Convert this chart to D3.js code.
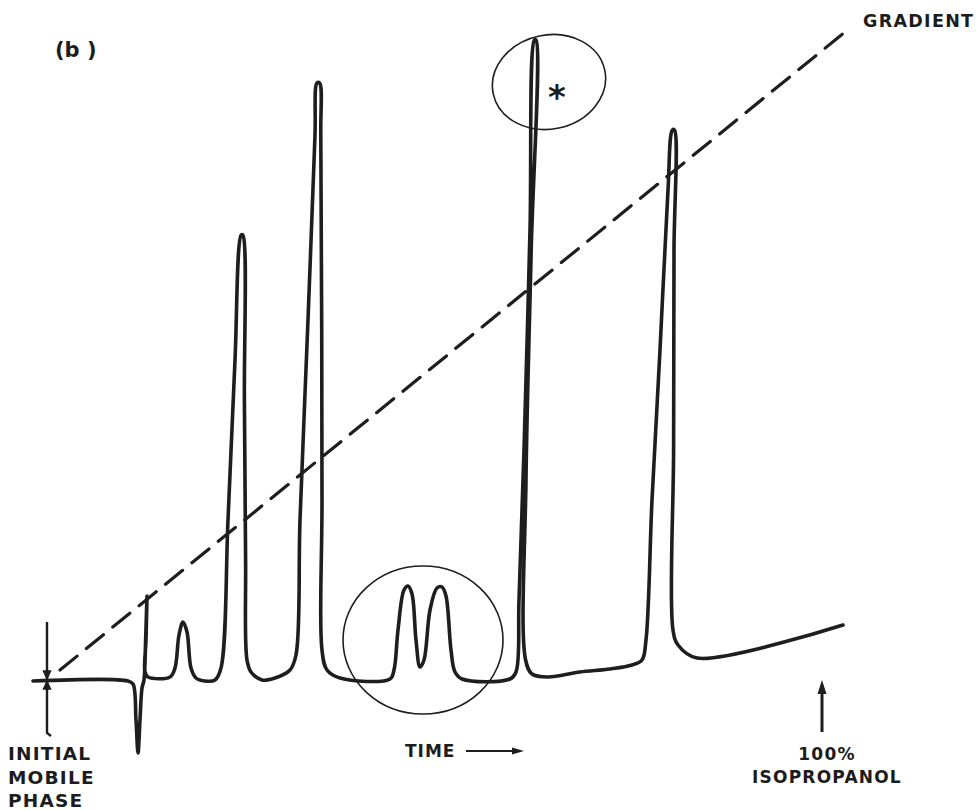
<!DOCTYPE html>
<html><head><meta charset="utf-8">
<script src="https://cdn.jsdelivr.net/npm/d3@7"></script>
<style>
html,body{margin:0;padding:0;background:#fff;}
svg text{font-family:"DejaVu Sans",Verdana,sans-serif;font-weight:bold;fill:#1c1c1c;}
</style>
</head><body>
<script>
// Chromatogram trace (time in min, detector signal in arbitrary units)
const traceTime = [-0.35,4.4,4.65,4.8,4.9,5.0,5.1,5.2,5.28,5.35,5.3,5.25,5.4,6.5,6.75,6.95,7.15,7.35,7.55,7.8,8.25,8.75,9.05,9.4,9.75,10.06,10.14,10.22,10.28,10.35,10.55,11.1,11.75,12.5,12.8,13.0,13.4,13.75,13.85,13.98,14.04,14.1,14.1,14.35,15.0,17.5,17.7,17.9,18.2,18.4,18.6,18.8,19.0,19.2,19.5,19.85,20.1,20.3,20.55,20.75,21.1,23.5,23.8,23.95,24.2,24.5,24.72,24.8,24.56,24.3,24.28,24.6,25.4,27.0,28.5,29.6,30.1,30.3,30.6,31.0,31.4,31.62,31.72,31.7,31.68,31.65,31.9,32.85,40.15];
const traceSignal = [-0.2,-0.2,-0.8,-8,-14.6,-8,-1.6,0,8,16.8,8,1.6,0.6,0.6,2.4,9,11.6,9.6,2.4,0.4,-0.2,0,2.4,32,64,89,89,56,24,4,1.6,0,0.4,2,5,32,72,109,119.4,119.4,109,36,6,2,0.4,0.2,2,10,18,18.8,17.2,8,2.6,4,14,18.4,18.6,16.8,6,1.6,0.2,0.2,1.6,16,46,90,128,128,86,40,4,1.2,0.6,1.6,2.2,3,4,8,36,66,98,110,110,86,46,10,7,4.4,11];
// Gradient programme (% isopropanol)
const gradientTime = [1.0, 40.25];
const gradientPct = [0, 100];
// Text labels
const panelLabel = "(b )";
const gradientLabel = "GRADIENT";
const initialLabel = ["INITIAL","MOBILE","PHASE"];
const timeLabel = "TIME";
const endLabel = ["100%","ISOPROPANOL"];
const injectTime = 0.35;      // initial mobile phase marker
const endTime = 39.1;         // 100% isopropanol marker
const circledM = {t:19.15, s:8, rt:4.0, rs:14.8};   // circled doublet
const circledStar = {t:25.45, s:119.6, rt:2.85, rs:9.4}; // circled starred peak

const W = 980, H = 810;
const svg = d3.select("body").append("svg").attr("width",W).attr("height",H);
svg.append("rect").attr("width",W).attr("height",H).attr("fill","#fff");

const x = d3.scaleLinear().domain([0,41]).range([40,860]);
const y = d3.scaleLinear().domain([0,128]).range([680,40]);
const yG = d3.scaleLinear().domain([0,100]).range([670,32]);
const ink = "#1e1e1e";

// gradient dashed line
svg.append("path")
  .datum(d3.zip(gradientTime, gradientPct))
  .attr("d", d3.line().x(d=>x(d[0])).y(d=>yG(d[1])))
  .attr("fill","none").attr("stroke",ink).attr("stroke-width",3.2)
  .attr("stroke-dasharray","22,12").attr("stroke-linecap","round");

// trace
const pts = d3.zip(traceTime, traceSignal);
svg.append("path")
  .datum(pts)
  .attr("d", d3.line().x(d=>x(d[0])).y(d=>y(d[1])).curve(d3.curveCatmullRom.alpha(0.5)))
  .attr("fill","none").attr("stroke",ink).attr("stroke-width",3.6)
  .attr("stroke-linejoin","round").attr("stroke-linecap","round");

// initial mobile phase marker
const xi = x(injectTime);
svg.append("path")
  .attr("d",`M${xi},${y(11.6)} L${xi},${y(-10.6)} L${xi+4},${y(-11.2)}`)
  .attr("fill","none").attr("stroke",ink).attr("stroke-width",2.4);
svg.append("path").attr("d",`M${xi-3.5},${y(1.8)} L${xi+3.5},${y(1.8)} L${xi},${y(0.2)} Z`).attr("fill",ink).attr("stroke",ink).attr("stroke-width",1.5);
svg.append("path").attr("d",`M${xi-3.5},${y(-1.8)} L${xi+3.5},${y(-1.8)} L${xi},${y(-0.3)} Z`).attr("fill",ink).attr("stroke",ink).attr("stroke-width",1.5);

// circles
svg.append("ellipse").attr("cx",x(circledM.t)).attr("cy",y(circledM.s))
  .attr("rx",x(circledM.rt)-x(0)).attr("ry",y(0)-y(circledM.rs))
  .attr("fill","none").attr("stroke",ink).attr("stroke-width",1.6);
svg.append("ellipse").attr("cx",x(circledStar.t)).attr("cy",y(circledStar.s))
  .attr("rx",x(circledStar.rt)-x(0)).attr("ry",y(0)-y(circledStar.rs))
  .attr("transform",`rotate(-12,${x(circledStar.t)},${y(circledStar.s)})`)
  .attr("fill","none").attr("stroke",ink).attr("stroke-width",1.6);
svg.append("text").attr("x",x(circledStar.t)+8).attr("y",y(circledStar.s)+27)
  .attr("text-anchor","middle").attr("font-size",34).text("*");

// texts
svg.append("text").attr("x",55).attr("y",57).attr("font-size",21).text(panelLabel);
svg.append("text").attr("x",863).attr("y",27).attr("font-size",17.5).attr("letter-spacing",1.3).text(gradientLabel);
initialLabel.forEach((t,i)=>svg.append("text").attr("x",8).attr("y",760+i*23.5).attr("font-size",18.5).attr("letter-spacing",1.2).text(t));
svg.append("text").attr("x",405).attr("y",757).attr("font-size",17).attr("letter-spacing",1).text(timeLabel);
// time arrow
svg.append("line").attr("x1",466).attr("y1",751).attr("x2",514).attr("y2",751).attr("stroke",ink).attr("stroke-width",2);
svg.append("path").attr("d","M512,747.5 L524,751 L512,754.5 Z").attr("fill",ink);
// 100% isopropanol arrow
const xe = x(endTime);
svg.append("line").attr("x1",xe).attr("y1",732).attr("x2",xe).attr("y2",692).attr("stroke",ink).attr("stroke-width",3);
svg.append("path").attr("d",`M${xe-4.5},${694} L${xe},${680} L${xe+4.5},${694} Z`).attr("fill",ink);
endLabel.forEach((t,i)=>svg.append("text").attr("x",xe+5).attr("y",760+i*23).attr("text-anchor","middle").attr("font-size",17).attr("letter-spacing",1.2).text(t));
</script>
</body></html>
